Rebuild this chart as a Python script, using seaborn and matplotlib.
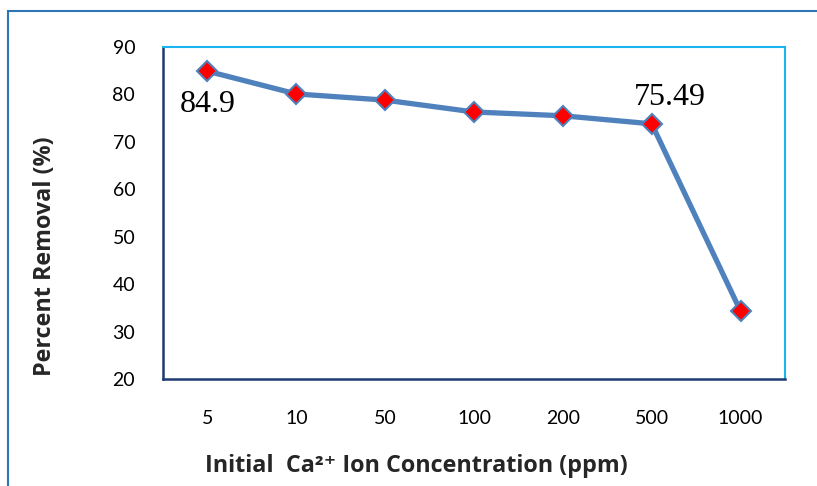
import matplotlib
matplotlib.use("Agg")
import matplotlib.pyplot as plt
import seaborn as sns
import pandas as pd
from matplotlib.patches import Rectangle

categories = ["5", "10", "50", "100", "200", "500", "1000"]
removal = [84.9, 80.1, 78.8, 76.3, 75.5, 73.8, 34.3]
annot_labels = {0: "84.9", 5: "75.49"}
yticks = [20, 30, 40, 50, 60, 70, 80, 90]

df = pd.DataFrame({"conc": categories, "removal": removal})

sns.set_theme(style="white")
plt.rcParams['font.family'] = ['Lato', 'DejaVu Sans']

fig = plt.figure(figsize=(8.17, 4.86), dpi=100)
ax = fig.add_axes([163/817, 1-379/486, (785-163)/817, (379-47)/486])

sns.lineplot(data=df, x="conc", y="removal", ax=ax, color="#4F81BD",
             linewidth=3.8, marker="D", markersize=10, markerfacecolor="red",
             markeredgecolor="#4F81BD", markeredgewidth=1.5, sort=False)

ax.set_xlim(-0.5, 6.5)
ax.set_ylim(20, 90)
ax.set_yticks(yticks)
ax.set_yticklabels([str(v) for v in yticks])
ax.tick_params(axis='y', length=0, pad=20, labelsize=14, colors='black')
ax.tick_params(axis='x', length=0, pad=22, labelsize=14, colors='black')

ax.set_xlabel("")
ax.set_ylabel("")
ax.set_facecolor("white")

for s in ["left", "bottom"]:
    ax.spines[s].set_color("#1F3B73")
    ax.spines[s].set_linewidth(1.8)
for s in ["top", "right"]:
    ax.spines[s].set_color("#19B5F0")
    ax.spines[s].set_linewidth(1.5)

# annotations
ax.text(0, 77.8, annot_labels[0], ha="center", va="center",
        fontsize=23, family="Liberation Serif", color="black")
ax.text(5.2, 79.4, annot_labels[5], ha="center", va="center",
        fontsize=23, family="Liberation Serif", color="black")

lab_font = ['Open Sans', 'DejaVu Sans']
fig.text(45/817, 1-256/486, "Percent Removal (%)", rotation=90, ha="center",
         va="center", fontsize=16.8, fontweight="bold", family=lab_font)
fig.text(416/817, 1-466/486, "Initial  Ca\u00b2\u207a Ion Concentration (ppm)",
         ha="center", va="center", fontsize=16.8, fontweight="bold", family=lab_font)

# outer frame
fig.patches.append(Rectangle((8/817, -0.1), 1.2, 1 - 11/486 + 0.1,
                             transform=fig.transFigure, fill=False,
                             edgecolor="#2E75B6", linewidth=1.5))

fig.savefig("out.png", dpi=100, facecolor="white")
